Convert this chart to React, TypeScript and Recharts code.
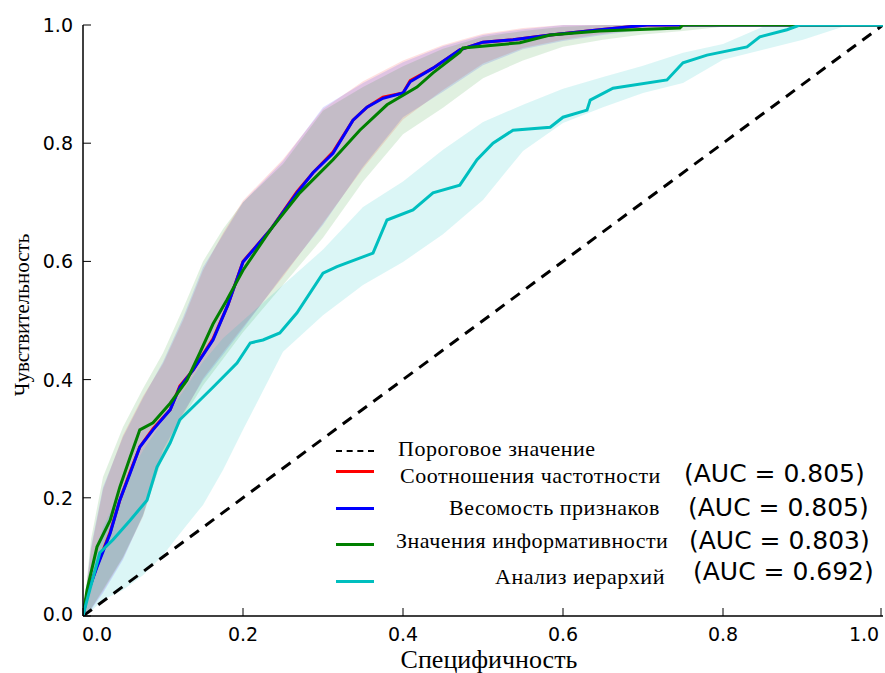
import { ComposedChart, Line, Area, XAxis, YAxis } from "recharts"

// ROC curves: false positive rate (x) vs true positive rate (y)
const redFpr = [0, 0.005, 0.0175, 0.034, 0.046, 0.059, 0.071, 0.0875, 0.109, 0.121, 0.1375, 0.1625, 0.181, 0.2, 0.234, 0.2675, 0.2875, 0.3125, 0.3375, 0.355, 0.375, 0.4, 0.409, 0.4375, 0.471, 0.5, 0.5375, 0.584, 0.646, 0.705, 1]
const redTpr = [0, 0.036, 0.085, 0.142, 0.196, 0.244, 0.286, 0.317, 0.349, 0.389, 0.416, 0.469, 0.526, 0.6, 0.653, 0.718, 0.75, 0.785, 0.839, 0.861, 0.878, 0.885, 0.906, 0.927, 0.958, 0.971, 0.975, 0.983, 0.992, 1, 1]

const blueFpr = [0, 0.005, 0.0175, 0.034, 0.046, 0.059, 0.071, 0.0875, 0.109, 0.121, 0.1375, 0.1625, 0.181, 0.2, 0.234, 0.2675, 0.2875, 0.3125, 0.3375, 0.355, 0.375, 0.4, 0.409, 0.4375, 0.471, 0.5, 0.5375, 0.584, 0.646, 0.705, 1]
const blueTpr = [0, 0.036, 0.083, 0.14, 0.196, 0.242, 0.286, 0.315, 0.349, 0.387, 0.416, 0.467, 0.526, 0.599, 0.653, 0.716, 0.75, 0.783, 0.839, 0.861, 0.876, 0.885, 0.904, 0.927, 0.958, 0.971, 0.975, 0.983, 0.992, 1, 1]

const greenFpr = [0, 0.005, 0.0175, 0.034, 0.046, 0.059, 0.071, 0.0875, 0.109, 0.13, 0.146, 0.1625, 0.18, 0.2, 0.234, 0.271, 0.3125, 0.346, 0.38, 0.4175, 0.4375, 0.471, 0.475, 0.546, 0.584, 0.646, 0.746, 0.75, 1]
const greenTpr = [0, 0.044, 0.117, 0.162, 0.218, 0.269, 0.315, 0.327, 0.36, 0.399, 0.445, 0.494, 0.535, 0.585, 0.653, 0.716, 0.772, 0.822, 0.865, 0.895, 0.919, 0.954, 0.961, 0.97, 0.983, 0.99, 0.995, 1, 1]

const cyanFpr = [0, 0.005, 0.021, 0.0375, 0.059, 0.08, 0.0925, 0.109, 0.121, 0.146, 0.1625, 0.1925, 0.209, 0.225, 0.246, 0.2675, 0.3, 0.3175, 0.3625, 0.38, 0.4125, 0.4375, 0.471, 0.4925, 0.5125, 0.5375, 0.584, 0.6, 0.63, 0.634, 0.6625, 0.73, 0.75, 0.78, 0.83, 0.846, 0.88, 0.896, 1]
const cyanTpr = [0, 0.027, 0.107, 0.129, 0.162, 0.196, 0.252, 0.293, 0.332, 0.365, 0.387, 0.428, 0.462, 0.467, 0.479, 0.513, 0.58, 0.591, 0.614, 0.67, 0.687, 0.716, 0.729, 0.772, 0.8, 0.822, 0.827, 0.844, 0.856, 0.873, 0.893, 0.907, 0.936, 0.949, 0.963, 0.98, 0.992, 1, 1]

// confidence bands on a common fpr grid
const bandFpr = [0, 0.01, 0.025, 0.05, 0.075, 0.1, 0.125, 0.15, 0.175, 0.2, 0.25, 0.3, 0.35, 0.4, 0.45, 0.5, 0.55, 0.6, 0.65, 0.7, 0.75, 0.8, 0.85, 0.9, 0.95, 1]
const redLow = [0, 0.012, 0.042, 0.098, 0.168, 0.276, 0.34, 0.402, 0.446, 0.489, 0.574, 0.665, 0.757, 0.84, 0.89, 0.935, 0.961, 0.975, 0.985, 0.993, 0.998, 1, 1, 1, 1, 1]
const redHigh = [0, 0.112, 0.214, 0.306, 0.372, 0.427, 0.5, 0.585, 0.648, 0.703, 0.773, 0.858, 0.905, 0.94, 0.966, 0.985, 0.995, 1, 1, 1, 1, 1, 1, 1, 1, 1]
const blueLow = [0, 0.01, 0.039, 0.095, 0.171, 0.281, 0.343, 0.399, 0.442, 0.486, 0.577, 0.662, 0.76, 0.844, 0.887, 0.932, 0.959, 0.973, 0.983, 0.992, 0.997, 1, 1, 1, 1, 1]
const blueHigh = [0, 0.117, 0.218, 0.303, 0.369, 0.43, 0.505, 0.59, 0.645, 0.7, 0.77, 0.861, 0.902, 0.937, 0.964, 0.983, 0.993, 1, 1, 1, 1, 1, 1, 1, 1, 1]
const greenLow = [0, 0.012, 0.045, 0.1, 0.17, 0.27, 0.335, 0.39, 0.435, 0.48, 0.56, 0.64, 0.735, 0.815, 0.86, 0.91, 0.94, 0.963, 0.975, 0.984, 0.99, 0.997, 1, 1, 1, 1]
const greenHigh = [0, 0.13, 0.235, 0.32, 0.385, 0.445, 0.52, 0.6, 0.655, 0.7, 0.765, 0.855, 0.895, 0.93, 0.96, 0.98, 0.99, 0.997, 1, 1, 1, 1, 1, 1, 1, 1]
const cyanLow = [0, 0.008, 0.027, 0.044, 0.069, 0.103, 0.146, 0.188, 0.247, 0.315, 0.447, 0.509, 0.56, 0.599, 0.646, 0.704, 0.787, 0.834, 0.861, 0.885, 0.902, 0.941, 0.958, 0.975, 0.997, 1]
const cyanHigh = [0, 0.08, 0.15, 0.22, 0.28, 0.33, 0.38, 0.43, 0.47, 0.5, 0.56, 0.62, 0.692, 0.735, 0.789, 0.836, 0.865, 0.892, 0.912, 0.931, 0.953, 0.968, 0.997, 1, 1, 1]

const chanceFpr = [0, 1]
const chanceTpr = [0, 1]

const axisTicks = [0, 0.2, 0.4, 0.6, 0.8, 1.0]

const legendLabels = ["Пороговое значение", "Соотношения частотности", "Весомость признаков", "Значения информативности", "Анализ иерархий"]
const aucLabels = ["", "(AUC = 0.805)", "(AUC = 0.805)", "(AUC = 0.803)", "(AUC = 0.692)"]

const W = 885
const H = 673
const TOP = 25
const BOTTOM = 616
const LEFT = 83
const RIGHT = 883

const curve = (xs: number[], ys: number[]) => xs.map((x, i) => ({ x, y: ys[i] }))
const band = (lo: number[], hi: number[]) => bandFpr.map((x, i) => ({ x, band: [lo[i], hi[i]] }))

const tickFont = { fontFamily: "DejaVu Sans", fontSize: 19, fill: "#000" }

const BottomTick = ({ x, payload }: any) => {
  const v = payload.value
  const dx = v === 0 ? 14 : v === 1 ? -17 : 0
  return (
    <g>
      <line x1={x} x2={x} y1={BOTTOM} y2={BOTTOM - 8} stroke="#000" strokeWidth={1} />
      <text x={x + dx} y={634} textAnchor="middle" dominantBaseline="central" {...tickFont}>
        {v.toFixed(1)}
      </text>
    </g>
  )
}

const TopTick = ({ x }: any) => <line x1={x} x2={x} y1={TOP} y2={TOP + 8} stroke="#000" strokeWidth={1} />

const LeftTick = ({ y, payload }: any) => (
  <g>
    <line x1={LEFT} x2={LEFT + 8} y1={y} y2={y} stroke="#000" strokeWidth={1} />
    <text x={73} y={payload.value === 0 ? y - 2 : y} textAnchor="end" dominantBaseline="central" {...tickFont}>
      {payload.value.toFixed(1)}
    </text>
  </g>
)

const RightTick = ({ y }: any) => <line x1={RIGHT} x2={RIGHT - 8} y1={y} y2={y} stroke="#000" strokeWidth={1} />

const serif = "'Liberation Serif', 'Times New Roman', serif"

function LegendBox() {
  const rowY = [449, 476, 508, 541, 577]
  const aucY = [0, 474, 508, 541, 572]
  const lineY = [451, 471, 508, 544, 581]
  const textX = [398, 400, 449, 396, 495]
  const aucX = [0, 684, 688, 689, 693]
  const colors = ["#000", "#ff0000", "#0000ff", "#008000", "#00bfbf"]
  return (
    <>
      {legendLabels.map((label, i) => (
        <div key={label}>
          <div
            style={{
              position: "absolute",
              left: 336,
              top: lineY[i] - 1.5,
              width: 38,
              height: i === 0 ? 0 : 3,
              background: i === 0 ? "none" : colors[i],
              borderTop: i === 0 ? "2px dashed #000" : "none",
            }}
          />
          <div
            style={{
              position: "absolute",
              left: textX[i],
              top: rowY[i] - 11,
              fontFamily: serif,
              fontSize: 22,
              letterSpacing: "0.5px",
              lineHeight: "22px",
              whiteSpace: "nowrap",
            }}
          >
            {label}
          </div>
          {aucLabels[i] && (
            <div
              style={{
                position: "absolute",
                left: aucX[i],
                top: aucY[i] - 13,
                fontFamily: "DejaVu Sans",
                fontSize: 25,
                lineHeight: "26px",
                whiteSpace: "nowrap",
              }}
            >
              {aucLabels[i]}
            </div>
          )}
        </div>
      ))}
    </>
  )
}

export default function App() {
  return (
    <div style={{ position: "absolute", left: 0, top: 0, width: W, height: H, background: "#fff" }}>
      <ComposedChart width={W} height={H} margin={{ top: TOP, right: W - RIGHT, bottom: 0, left: 0 }}>
        <XAxis
          type="number"
          dataKey="x"
          domain={[0, 1]}
          ticks={axisTicks}
          height={H - BOTTOM}
          tick={<BottomTick />}
          tickLine={false}
          axisLine={{ stroke: "#000", strokeWidth: 1.5 }}
          allowDataOverflow
        />
        <XAxis
          xAxisId="top"
          orientation="top"
          type="number"
          dataKey="x"
          domain={[0, 1]}
          ticks={axisTicks}
          height={0}
          tick={<TopTick />}
          tickLine={false}
          axisLine={{ stroke: "#000", strokeWidth: 1.5 }}
          allowDataOverflow
        />
        <YAxis
          type="number"
          domain={[0, 1]}
          ticks={axisTicks}
          width={LEFT}
          tick={<LeftTick />}
          tickLine={false}
          axisLine={{ stroke: "#000", strokeWidth: 1.5 }}
          allowDataOverflow
        />
        <YAxis
          yAxisId="right"
          orientation="right"
          type="number"
          domain={[0, 1]}
          ticks={axisTicks}
          width={0}
          tick={<RightTick />}
          tickLine={false}
          axisLine={{ stroke: "#000", strokeWidth: 1.5 }}
          allowDataOverflow
        />

        <Area data={band(redLow, redHigh)} dataKey="band" type="linear" stroke="none" fill="#ff0000" fillOpacity={0.12} isAnimationActive={false} />
        <Area data={band(blueLow, blueHigh)} dataKey="band" type="linear" stroke="none" fill="#0000ff" fillOpacity={0.12} isAnimationActive={false} />
        <Area data={band(greenLow, greenHigh)} dataKey="band" type="linear" stroke="none" fill="#008000" fillOpacity={0.12} isAnimationActive={false} />
        <Area data={band(cyanLow, cyanHigh)} dataKey="band" type="linear" stroke="none" fill="#00bfbf" fillOpacity={0.14} isAnimationActive={false} />

        <Line data={curve(chanceFpr, chanceTpr)} dataKey="y" type="linear" stroke="#000" strokeWidth={3} strokeDasharray="11 8" dot={false} isAnimationActive={false} />
        <Line data={curve(redFpr, redTpr)} dataKey="y" type="linear" stroke="#ff0000" strokeWidth={3} dot={false} isAnimationActive={false} />
        <Line data={curve(blueFpr, blueTpr)} dataKey="y" type="linear" stroke="#0000ff" strokeWidth={3} dot={false} isAnimationActive={false} />
        <Line data={curve(greenFpr, greenTpr)} dataKey="y" type="linear" stroke="#008000" strokeWidth={3} dot={false} isAnimationActive={false} />
        <Line data={curve(cyanFpr, cyanTpr)} dataKey="y" type="linear" stroke="#00bfbf" strokeWidth={3} dot={false} isAnimationActive={false} />
      </ComposedChart>

      <LegendBox />

      <div
        style={{
          position: "absolute",
          left: 489,
          top: 660,
          transform: "translate(-50%, -50%)",
          fontFamily: serif,
          fontSize: 26,
          whiteSpace: "nowrap",
        }}
      >
        Специфичность
      </div>
      <div
        style={{
          position: "absolute",
          left: 22,
          top: 315,
          transform: "translate(-50%, -50%) rotate(-90deg)",
          fontFamily: serif,
          fontSize: 21,
          whiteSpace: "nowrap",
        }}
      >
        Чувствительность
      </div>
    </div>
  )
}
